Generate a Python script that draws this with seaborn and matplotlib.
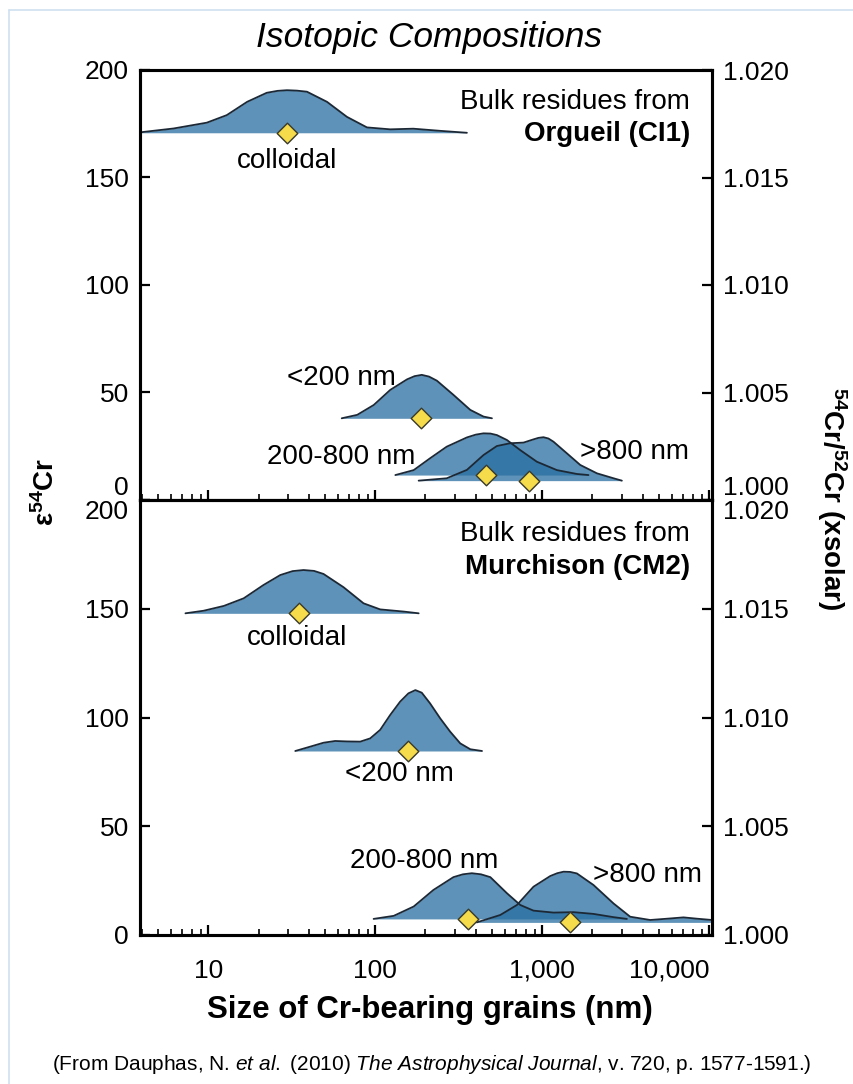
import matplotlib
matplotlib.use("Agg")
import matplotlib.pyplot as plt
import seaborn as sns
import numpy as np

# ---- data (grain size in nm, height of the density curve in eps units)
# Orgueil (CI1), top panel
org_coll_nm = [3.9, 6.2, 9.8, 12.9, 17.1, 22.4, 26.0, 29.6, 34.0, 39.0, 51.4, 67.7, 89.2, 123, 169, 245, 354]
org_coll_h = [0.2, 2.0, 4.7, 8.2, 14.4, 18.6, 19.5, 19.8, 19.6, 19.1, 14.4, 7.4, 2.5, 1.6, 1.9, 0.9, 0]
org_lt200_nm = [63, 78, 98, 123, 155, 172, 190, 210, 234, 294, 371, 445, 500]
org_lt200_h = [0, 1.6, 6.2, 13.2, 18.1, 19.6, 20.2, 19.4, 17.5, 10.9, 3.9, 0.8, 0]
org_mid_nm = [132, 170, 213, 268, 354, 400, 445, 490, 535, 615, 739, 929, 1225, 1614, 1893]
org_mid_h = [0, 2.3, 7.8, 13.2, 17.5, 18.8, 19.4, 19.3, 18.6, 16.3, 11.6, 6.2, 2.3, 0.5, 0]
org_gt800_nm = [182, 268, 354, 445, 535, 643, 773, 887, 950, 1018, 1090, 1169, 1406, 1690, 2128, 2675, 3000]
org_gt800_h = [0, 1.1, 5.0, 11.9, 16.1, 17.4, 17.7, 19.2, 19.9, 20.2, 19.6, 18.1, 12.7, 7.3, 3.4, 1.1, 0]

# Murchison (CM2), bottom panel
mur_coll_nm = [7.3, 9.4, 12.4, 16.3, 21.4, 27.0, 32.0, 37.2, 43.0, 49.0, 64.6, 85.1, 107, 148, 182]
mur_coll_h = [0, 1.2, 3.4, 6.9, 13.0, 17.6, 19.4, 19.9, 19.5, 18.1, 12.0, 4.6, 1.8, 0.8, 0]
mur_lt200_nm = [33.2, 40.8, 49.0, 57.5, 67.6, 81.3, 93.3, 107, 123, 141, 158, 174, 190, 213, 245, 281, 323, 371, 436]
mur_lt200_h = [0, 2.0, 3.8, 4.6, 4.4, 4.3, 5.8, 9.7, 16.6, 22.7, 26.5, 28.0, 26.8, 21.9, 15.0, 8.9, 3.5, 0.8, 0]
mur_mid_nm = [97.8, 129, 170, 223, 294, 335, 379, 430, 489, 615, 739, 887, 1169, 1541, 2028, 2675, 3215]
mur_mid_h = [0, 1.4, 5.7, 13.3, 19.2, 20.5, 21.0, 20.5, 19.2, 11.8, 6.4, 3.8, 2.9, 3.1, 2.3, 0.8, 0]
mur_gt800_nm = [406, 561, 706, 887, 1117, 1230, 1343, 1470, 1614, 2028, 2675, 3365, 4436, 5840, 7020, 8440, 10400]
mur_gt800_h = [0, 3.4, 8.0, 16.4, 21.3, 22.6, 23.3, 23.2, 22.5, 17.2, 8.7, 2.6, 1.1, 1.8, 2.3, 1.7, 1.1]

# eps54Cr of each fraction (curve baseline) and the mean size (diamond)
org_eps = [170.8, 38.0, 11.6, 9.0]
org_size = [29.6, 188, 460, 839]
mur_eps = [147.9, 84.6, 7.4, 5.8]
mur_size = [34.8, 158, 357, 1472]

x_ticks = [10, 100, 1000, 10000]
x_labels = ['10', '100', '1,000', '10,000']
eps_ticks = [0, 50, 100, 150, 200]
ratio_ticks = [1.000, 1.005, 1.010, 1.015, 1.020]
ratio_labels = ['1.000', '1.005', '1.010', '1.015', '1.020']

sns.set_style('ticks')
plt.rcParams['font.family'] = ['Liberation Sans', 'DejaVu Sans']
plt.rcParams['text.color'] = 'black'
plt.rcParams['mathtext.fontset'] = 'custom'
plt.rcParams['mathtext.rm'] = 'Liberation Sans'
plt.rcParams['mathtext.it'] = 'Liberation Sans:italic'
plt.rcParams['mathtext.bf'] = 'Liberation Sans:bold'

FILL = '#286ea0'
EDGE = '#1c2835'
W, H = 854, 1084


def px(x, y):
    return x / W, 1 - y / H


def add_ridge(ax, sizes, heights, base):
    top = np.array(heights) + base
    ax.fill_between(sizes, base, top, color=FILL, alpha=0.75, lw=0)
    sns.lineplot(x=sizes, y=top, ax=ax, color=EDGE, lw=1.3, sort=False, legend=False)


def setup_axes(ax, show_x):
    ax.set_xscale('log')
    ax.set_xlim(3.9, 10400)
    ax.set_ylim(0, 200)
    ax.set_yticks(eps_ticks)
    ax.set_yticklabels([str(t) for t in eps_ticks])
    ax.set_xticks(x_ticks)
    ax.set_xticklabels(x_labels if show_x else [])
    ax.tick_params(axis='both', which='major', direction='in', length=7, width=1.6,
                   labelsize=19, colors='black', pad=8)
    ax.tick_params(axis='x', which='minor', direction='in', length=4, width=1.2, colors='black')
    ax.tick_params(axis='x', which='major', pad=17)
    ax.tick_params(axis='y', which='minor', left=False)
    for s in ax.spines.values():
        s.set_color('black')
        s.set_linewidth(2.2)
    tw = ax.twinx()
    tw.set_ylim(1.0, 1.02)
    tw.set_yticks(ratio_ticks)
    tw.set_yticklabels(ratio_labels)
    tw.tick_params(axis='y', direction='in', length=7, width=1.6, labelsize=19, colors='black', pad=8)
    for s in tw.spines.values():
        s.set_color('black')
        s.set_linewidth(2.2)
    return tw


fig = plt.figure(figsize=(W / 100, H / 100), dpi=100)
ax_top = fig.add_axes([140 / W, 1 - 500 / H, 572 / W, 430 / H])
ax_bot = fig.add_axes([140 / W, 1 - 935 / H, 572 / W, 435 / H])

tw_top = setup_axes(ax_top, False)
tw_bot = setup_axes(ax_bot, True)
ax_top.tick_params(axis='x', which='both', top=False)
ax_bot.tick_params(axis='x', which='both', top=False)

# top panel: Orgueil
add_ridge(ax_top, org_coll_nm, org_coll_h, org_eps[0])
add_ridge(ax_top, org_lt200_nm, org_lt200_h, org_eps[1])
add_ridge(ax_top, org_mid_nm, org_mid_h, org_eps[2])
add_ridge(ax_top, org_gt800_nm, org_gt800_h, org_eps[3])
sns.scatterplot(x=org_size, y=org_eps, ax=ax_top, marker='D', s=110, color='#f6dc4a',
                edgecolor='#3a3a2a', linewidth=1.0, zorder=5, legend=False)

# bottom panel: Murchison
add_ridge(ax_bot, mur_coll_nm, mur_coll_h, mur_eps[0])
add_ridge(ax_bot, mur_lt200_nm, mur_lt200_h, mur_eps[1])
add_ridge(ax_bot, mur_mid_nm, mur_mid_h, mur_eps[2])
add_ridge(ax_bot, mur_gt800_nm, mur_gt800_h, mur_eps[3])
sns.scatterplot(x=mur_size, y=mur_eps, ax=ax_bot, marker='D', s=110, color='#f6dc4a',
                edgecolor='#3a3a2a', linewidth=1.0, zorder=5, legend=False)

# shift the labels that meet at the panel boundary
ax_top.get_yticklabels()[0].set_va('bottom')
tw_top.get_yticklabels()[0].set_va('bottom')
ax_bot.get_yticklabels()[-1].set_va('top')
tw_bot.get_yticklabels()[-1].set_va('top')
ax_bot.get_xticklabels()[-1].set_ha('right')

# annotations
fs = 20
ax_top.text(0.9615, 0.9256, 'Bulk residues from', transform=ax_top.transAxes, ha='right', va='center', fontsize=fs)
ax_top.text(0.9615, 0.851, 'Orgueil (CI1)', transform=ax_top.transAxes, ha='right', va='center',
            fontsize=fs, fontweight='bold')
ax_top.text(29.7, 157.7, 'colloidal', ha='center', va='center', fontsize=fs)
ax_top.text(62.5, 56.7, '<200 nm', ha='center', va='center', fontsize=fs)
ax_top.text(62.5, 20.0, '200-800 nm', ha='center', va='center', fontsize=fs)
ax_top.text(3556, 22.3, '>800 nm', ha='center', va='center', fontsize=fs)

ax_bot.text(0.9615, 0.922, 'Bulk residues from', transform=ax_bot.transAxes, ha='right', va='center', fontsize=fs)
ax_bot.text(0.9615, 0.846, 'Murchison (CM2)', transform=ax_bot.transAxes, ha='right', va='center',
            fontsize=fs, fontweight='bold')
ax_bot.text(34.1, 136.6, 'colloidal', ha='center', va='center', fontsize=fs)
ax_bot.text(139, 74.0, '<200 nm', ha='center', va='center', fontsize=fs)
ax_bot.text(196, 34.0, '200-800 nm', ha='center', va='center', fontsize=fs)
ax_bot.text(4260, 27.6, '>800 nm', ha='center', va='center', fontsize=fs)

# titles and axis labels
fig.text(*px(429, 38), 'Isotopic Compositions', ha='center', va='center', fontsize=25.5, style='italic')
fig.text(*px(430, 1010), 'Size of Cr-bearing grains (nm)', ha='center', va='center',
         fontsize=22.5, fontweight='bold')
fig.text(*px(46, 492), r'$\mathbf{ε^{54}Cr}$', ha='center', va='center', rotation=90, fontsize=20)
fig.text(*px(832, 499), r'$\mathbf{^{54}Cr/^{52}Cr\ (xsolar)}$', ha='center', va='center',
         rotation=270, fontsize=20)
fig.text(*px(432, 1065),
         r'(From Dauphas, N. $\mathit{et\ al.}$ (2010) $\mathit{The\ Astrophysical\ Journal}$, v. 720, p. 1577-1591.)',
         ha='center', va='center', fontsize=15)

# thin frame of the original screenshot
fig.add_artist(plt.Line2D([9 / W, 9 / W], [0, 1 - 10 / H], color='#cfe0f0', lw=1.2))
fig.add_artist(plt.Line2D([9 / W, 1], [1 - 10 / H, 1 - 10 / H], color='#cfe0f0', lw=1.2))

fig.savefig('out.png', dpi=100)
